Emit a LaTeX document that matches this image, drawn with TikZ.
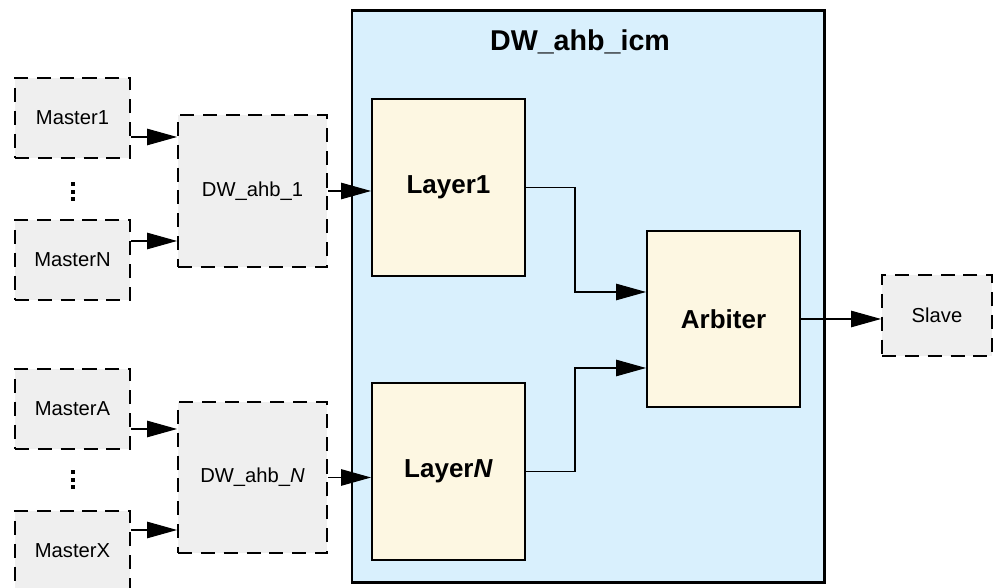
\documentclass[tikz,border=0pt]{standalone}
\usepackage{fontspec}
\setmainfont{Liberation Sans}
\usepackage{tikz}
\usetikzlibrary{arrows.meta,positioning,calc}
\usepackage{xcolor}
\definecolor{icmblue}{HTML}{D9F0FD}
\definecolor{layercream}{HTML}{FDF7E2}
\definecolor{extgray}{HTML}{EFEFEF}

\begin{document}
\begin{tikzpicture}[
  ext/.style={draw, line width=1.1pt, dash pattern=on 8pt off 5pt, fill=extgray, align=center, font=\fontsize{11.5}{14}\selectfont},
  block/.style={draw, line width=1.1pt, fill=layercream, minimum width=3.06cm, minimum height=3.54cm, align=center, font=\fontsize{14.8}{17}\selectfont\bfseries},
  arrow/.style={-{Triangle[length=0.6cm, width=0.33cm]}, line width=0.6pt},
]
  \useasboundingbox (0,0) rectangle (19.86,11.76);

  % Interconnect
  \node[draw, line width=1.7pt, fill=icmblue, minimum width=9.44cm, minimum height=11.44cm] (icm) at (11.76,5.82) {};
  \node[font=\fontsize{16.3}{19}\selectfont\bfseries] (title) at (11.6,10.92) {DW\_ahb\_icm};

  % Masters and their buses
  \node[ext, minimum width=2.3cm, minimum height=1.6cm] (m1) at (1.45,9.4) {Master1};
  \coordinate (dots1) at (1.46,7.92);
  \node[ext, minimum width=2.3cm, minimum height=1.6cm] (mN) at (1.45,6.56) {MasterN};
  \node[ext, minimum width=2.98cm, minimum height=3.04cm] (ahb1) at (5.05,7.94) {DW\_ahb\_1};

  \node[ext, minimum width=2.3cm, minimum height=1.6cm] (mA) at (1.45,3.58) {MasterA};
  \coordinate (dots2) at (1.46,2.16);
  \node[ext, minimum width=2.3cm, minimum height=1.6cm] (mX) at (1.45,0.74) {MasterX};
  \node[ext, minimum width=2.98cm, minimum height=3.02cm] (ahbN) at (5.05,2.21) {DW\_ahb\_\textit{N}};

  % vertical dots
  \foreach \c in {dots1,dots2}
    \foreach \d in {-0.15,0,0.15}
      \fill ($(\c)+(-0.04,\d-0.04)$) rectangle ++(0.08,0.08);

  % Layers and arbiter
  \node[block] (layer1) at (8.97,8.01) {Layer1};
  \node[block] (layerN) at (8.97,2.33) {Layer\textit{N}};
  \node[block, minimum height=3.52cm] (arbiter) at (14.47,5.38) {Arbiter};

  % Slave
  \node[ext, minimum width=2.2cm, minimum height=1.62cm] (slave) at (18.74,5.45) {Slave};

  % Arrows
  \coordinate (m1out) at ([yshift=-0.38cm]m1.east);
  \coordinate (mNout) at ([yshift=0.38cm]mN.east);
  \coordinate (mAout) at ([yshift=-0.4cm]mA.east);
  \coordinate (mXout) at ([yshift=0.42cm]mX.east);
  \coordinate (arbin1) at ([yshift=0.54cm]arbiter.west);
  \coordinate (arbin2) at ([yshift=-0.98cm]arbiter.west);

  \draw[arrow] (m1out) -- (m1out -| ahb1.west);
  \draw[arrow] (mNout) -- (mNout -| ahb1.west);
  \draw[arrow] (mAout) -- (mAout -| ahbN.west);
  \draw[arrow] (mXout) -- (mXout -| ahbN.west);
  \draw[arrow] (ahb1.east) -- (ahb1.east -| layer1.west);
  \draw[arrow] (ahbN.east) -- (ahbN.east -| layerN.west);
  \draw[arrow] (layer1.east) -- ++(0.98,0) |- (arbin1);
  \draw[arrow] (layerN.east) -- ++(0.98,0) |- (arbin2);
  \draw[arrow] (arbiter.east) -- (arbiter.east -| slave.west);
\end{tikzpicture}
\end{document}
